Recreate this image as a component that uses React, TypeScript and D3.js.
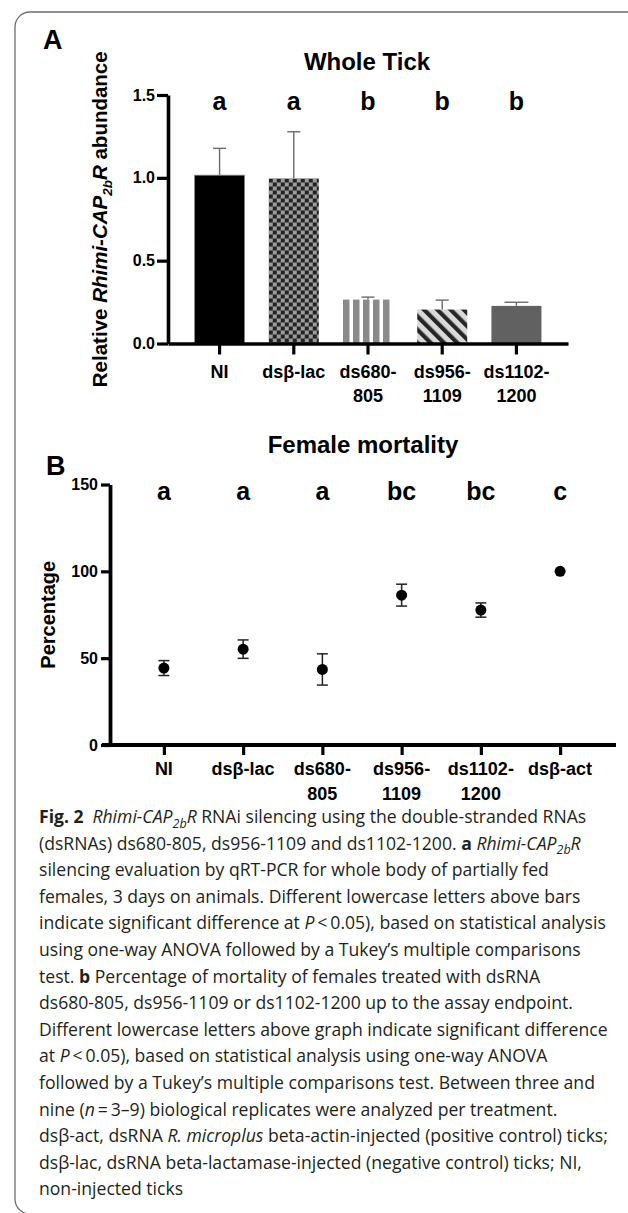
import React, { useRef, useEffect } from 'react';
import * as d3 from 'd3';

// ---- panel A : relative abundance (bars) ----
const catsA = ['NI', 'dsβ-lac', 'ds680-805', 'ds956-1109', 'ds1102-1200'];
const tickLinesA = [['NI'], ['dsβ-lac'], ['ds680-', '805'], ['ds956-', '1109'], ['ds1102-', '1200']];
const meansA = [1.016, 0.996, 0.265, 0.205, 0.227];
const errA = [0.162, 0.282, 0.015, 0.057, 0.022];
const lettersA = ['a', 'a', 'b', 'b', 'b'];
const yTicksA = [0, 0.5, 1.0, 1.5];

// ---- panel B : female mortality (points) ----
const catsB = ['NI', 'dsβ-lac', 'ds680-805', 'ds956-1109', 'ds1102-1200', 'dsβ-act'];
const tickLinesB = [['NI'], ['dsβ-lac'], ['ds680-', '805'], ['ds956-', '1109'], ['ds1102-', '1200'], ['dsβ-act']];
const meansB = [44.3, 55.2, 43.5, 86.3, 77.7, 100];
const errB = [4.3, 5.3, 9.0, 6.3, 4.1, 0];
const lettersB = ['a', 'a', 'a', 'bc', 'bc', 'c'];
const yTicksB = [0, 50, 100, 150];

// caption, one entry per printed line; b = bold, i = italic, s = subscript
type Seg = { t: string; b?: boolean; i?: boolean; s?: boolean };
const caption: Seg[][] = [
  [{ t: 'Fig. 2', b: true }, { t: '\u2002' }, { t: 'Rhimi-CAP', i: true }, { t: '2b', i: true, s: true }, { t: 'R', i: true }, { t: ' RNAi silencing using the double-stranded RNAs' }],
  [{ t: '(dsRNAs) ds680-805, ds956-1109 and ds1102-1200. ' }, { t: 'a', b: true }, { t: ' ' }, { t: 'Rhimi-CAP', i: true }, { t: '2b', i: true, s: true }, { t: 'R', i: true }],
  [{ t: 'silencing evaluation by qRT-PCR for whole body of partially fed' }],
  [{ t: 'females, 3 days on animals. Different lowercase letters above bars' }],
  [{ t: 'indicate significant difference at ' }, { t: 'P', i: true }, { t: '\u2009<\u20090.05), based on statistical analysis' }],
  [{ t: 'using one-way ANOVA followed by a Tukey\u2019s multiple comparisons' }],
  [{ t: 'test. ' }, { t: 'b', b: true }, { t: ' Percentage of mortality of females treated with dsRNA' }],
  [{ t: 'ds680-805, ds956-1109 or ds1102-1200 up to the assay endpoint.' }],
  [{ t: 'Different lowercase letters above graph indicate significant difference' }],
  [{ t: 'at ' }, { t: 'P', i: true }, { t: '\u2009<\u20090.05), based on statistical analysis using one-way ANOVA' }],
  [{ t: 'followed by a Tukey\u2019s multiple comparisons test. Between three and' }],
  [{ t: 'nine (' }, { t: 'n', i: true }, { t: '\u2009=\u20093\u20139) biological replicates were analyzed per treatment.' }],
  [{ t: 'dsβ-act, dsRNA ' }, { t: 'R. microplus', i: true }, { t: ' beta-actin-injected (positive control) ticks;' }],
  [{ t: 'dsβ-lac, dsRNA beta-lactamase-injected (negative control) ticks; NI,' }],
  [{ t: 'non-injected ticks' }],
];

const FONT = 'Arial, "Liberation Sans", Helvetica, sans-serif';
const CAPFONT = '"Open Sans", "Noto Sans", sans-serif';

const App = () => {
  const ref = useRef(null);

  useEffect(() => {
    const svg = d3.select(ref.current);
    svg.selectAll('*').remove();

    // rounded frame (only left/top visible)
    svg.append('rect')
      .attr('x', 15).attr('y', 12)
      .attr('width', 700).attr('height', 1202)
      .attr('rx', 15)
      .attr('fill', 'none')
      .attr('stroke', '#6e6e6e')
      .attr('stroke-width', 1.3);

    const defs = svg.append('defs');

    // ===== Panel A =====
    const xA = d3.scaleBand().domain(catsA).range([168, 568]).paddingInner(0.326).paddingOuter(0.358);
    const yA = d3.scaleLinear().domain([0, 1.5]).range([343.5, 95]);

    // patterns
    const chk = defs.append('pattern').attr('id', 'chk').attr('patternUnits', 'userSpaceOnUse')
      .attr('width', 8).attr('height', 8).attr('x', xA('dsβ-lac')).attr('y', yA(meansA[1]));
    chk.append('rect').attr('width', 8).attr('height', 8).attr('fill', '#9c9c9c');
    chk.append('rect').attr('width', 4).attr('height', 4).attr('fill', '#232323');
    chk.append('rect').attr('x', 4).attr('y', 4).attr('width', 4).attr('height', 4).attr('fill', '#232323');

    const vst = defs.append('pattern').attr('id', 'vst').attr('patternUnits', 'userSpaceOnUse')
      .attr('width', 10).attr('height', 10).attr('x', xA('ds680-805'));
    vst.append('rect').attr('width', 10).attr('height', 10).attr('fill', '#ffffff');
    vst.append('rect').attr('width', 6.5).attr('height', 10).attr('fill', '#8a8a8a');

    const dg = defs.append('pattern').attr('id', 'dg').attr('patternUnits', 'userSpaceOnUse')
      .attr('width', 9.4).attr('height', 9.4).attr('patternTransform', `translate(${xA('ds956-1109')},0) rotate(-45)`);
    dg.append('rect').attr('width', 9.4).attr('height', 9.4).attr('fill', '#d9d9d9');
    dg.append('rect').attr('width', 4.2).attr('height', 9.4).attr('fill', '#262626');

    const fillsA = ['#000000', 'url(#chk)', 'url(#vst)', 'url(#dg)', '#616161'];
    const capsA = [13, 13, 13, 13, 24];

    const gA = svg.append('g');

    gA.selectAll('.bar')
      .data(catsA)
      .enter()
      .append('rect')
      .attr('class', 'bar')
      .attr('x', d => xA(d))
      .attr('y', (d, i) => yA(meansA[i]))
      .attr('width', xA.bandwidth())
      .attr('height', (d, i) => yA(0) - yA(meansA[i]))
      .attr('fill', (d, i) => fillsA[i])
      .attr('stroke', (d, i) => (i === 0 ? '#8a8a8a' : 'none'))
      .attr('stroke-width', 0.8);

    // error bars (upper only)
    catsA.forEach((c, i) => {
      const cx = xA(c) + xA.bandwidth() / 2;
      gA.append('line')
        .attr('x1', cx).attr('x2', cx)
        .attr('y1', yA(meansA[i])).attr('y2', yA(meansA[i] + errA[i]))
        .attr('stroke', '#6b6b6b').attr('stroke-width', 1.4);
      gA.append('line')
        .attr('x1', cx - capsA[i] / 2).attr('x2', cx + capsA[i] / 2)
        .attr('y1', yA(meansA[i] + errA[i])).attr('y2', yA(meansA[i] + errA[i]))
        .attr('stroke', '#6b6b6b').attr('stroke-width', 1.4);
    });

    // axes
    const axL = gA.append('g')
      .attr('transform', 'translate(168,0)')
      .call(d3.axisLeft(yA).tickValues(yTicksA).tickFormat(d3.format('.1f')).tickSize(11).tickSizeOuter(0).tickPadding(2));
    const axB = gA.append('g')
      .attr('transform', `translate(0,${yA(0)})`)
      .call(d3.axisBottom(xA).tickSize(11).tickSizeOuter(0).tickFormat(() => ''));
    [axL, axB].forEach(ax => {
      ax.select('.domain').attr('stroke', '#000').attr('stroke-width', 3.6);
      ax.selectAll('.tick line').attr('stroke', '#000').attr('stroke-width', 3.2);
    });
    axL.selectAll('.tick text')
      .attr('fill', '#000')
      .style('font-family', FONT).style('font-weight', 'bold').style('font-size', '16px');

    // multi-line category labels
    catsA.forEach((c, i) => {
      const t = gA.append('text')
        .attr('x', xA(c) + xA.bandwidth() / 2)
        .attr('y', 378)
        .attr('text-anchor', 'middle')
        .style('font-family', FONT).style('font-weight', 'bold').style('font-size', '18px');
      tickLinesA[i].forEach((ln, k) => {
        t.append('tspan').attr('x', xA(c) + xA.bandwidth() / 2).attr('dy', k === 0 ? 0 : 24).text(ln);
      });
    });

    // significance letters
    gA.selectAll('.ltr')
      .data(lettersA)
      .enter()
      .append('text')
      .attr('x', (d, i) => xA(catsA[i]) + xA.bandwidth() / 2)
      .attr('y', 110)
      .attr('text-anchor', 'middle')
      .style('font-family', FONT).style('font-weight', 'bold').style('font-size', '25px')
      .text(d => d);

    gA.append('text')
      .attr('x', 367).attr('y', 70)
      .attr('text-anchor', 'middle')
      .style('font-family', FONT).style('font-weight', 'bold').style('font-size', '24px')
      .text('Whole Tick');

    gA.append('text')
      .attr('x', 43).attr('y', 49)
      .style('font-family', FONT).style('font-weight', 'bold').style('font-size', '27px')
      .text('A');

    const yl = gA.append('text')
      .attr('transform', `translate(107,${(yA(0) + yA(1.5)) / 2}) rotate(-90)`)
      .attr('text-anchor', 'middle')
      .style('font-family', FONT).style('font-weight', 'bold').style('font-size', '20.5px');
    yl.append('tspan').text('Relative ');
    yl.append('tspan').style('font-style', 'italic').text('Rhimi-CAP');
    yl.append('tspan').style('font-style', 'italic').style('font-size', '13.5px').attr('dy', 5).text('2b');
    yl.append('tspan').style('font-style', 'italic').attr('dy', -5).text('R');
    yl.append('tspan').text(' abundance');

    // ===== Panel B =====
    const xB = d3.scalePoint().domain(catsB).range([110, 614]).padding(0.68);
    const yB = d3.scaleLinear().domain([0, 150]).range([745, 484.5]);
    const gB = svg.append('g');

    const axLB = gB.append('g')
      .attr('transform', 'translate(110,0)')
      .call(d3.axisLeft(yB).tickValues(yTicksB).tickSize(9).tickSizeOuter(0).tickPadding(3));
    const axBB = gB.append('g')
      .attr('transform', `translate(0,${yB(0)})`)
      .call(d3.axisBottom(xB).tickSize(10).tickSizeOuter(0).tickFormat(() => ''));
    axBB.select('.domain').attr('d', `M102,0H616`);
    [axLB, axBB].forEach(ax => {
      ax.select('.domain').attr('stroke', '#000').attr('stroke-width', 3.8);
      ax.selectAll('.tick line').attr('stroke', '#000').attr('stroke-width', 3.2);
    });
    axLB.selectAll('.tick text')
      .attr('fill', '#000')
      .style('font-family', FONT).style('font-weight', 'bold').style('font-size', '16px');

    catsB.forEach((c, i) => {
      const cx = xB(c);
      if (errB[i] > 0) {
        gB.append('line')
          .attr('x1', cx).attr('x2', cx)
          .attr('y1', yB(meansB[i] - errB[i])).attr('y2', yB(meansB[i] + errB[i]))
          .attr('stroke', '#222').attr('stroke-width', 1.5);
        [meansB[i] - errB[i], meansB[i] + errB[i]].forEach(v => {
          gB.append('line')
            .attr('x1', cx - 5.5).attr('x2', cx + 5.5)
            .attr('y1', yB(v)).attr('y2', yB(v))
            .attr('stroke', '#222').attr('stroke-width', 1.5);
        });
      }
    });

    gB.selectAll('.pt')
      .data(catsB)
      .enter()
      .append('circle')
      .attr('cx', d => xB(d))
      .attr('cy', (d, i) => yB(meansB[i]))
      .attr('r', 5.5)
      .attr('fill', '#000');

    catsB.forEach((c, i) => {
      const t = gB.append('text')
        .attr('x', xB(c))
        .attr('y', 775)
        .attr('text-anchor', 'middle')
        .style('font-family', FONT).style('font-weight', 'bold').style('font-size', '18px');
      tickLinesB[i].forEach((ln, k) => {
        t.append('tspan').attr('x', xB(c)).attr('dy', k === 0 ? 0 : 25).text(ln);
      });
    });

    gB.selectAll('.ltrb')
      .data(lettersB)
      .enter()
      .append('text')
      .attr('x', (d, i) => xB(catsB[i]))
      .attr('y', 500)
      .attr('text-anchor', 'middle')
      .style('font-family', FONT).style('font-weight', 'bold').style('font-size', '25px')
      .text(d => d);

    gB.append('text')
      .attr('x', 363).attr('y', 453)
      .attr('text-anchor', 'middle')
      .style('font-family', FONT).style('font-weight', 'bold').style('font-size', '24px')
      .text('Female mortality');

    gB.append('text')
      .attr('x', 46).attr('y', 475)
      .style('font-family', FONT).style('font-weight', 'bold').style('font-size', '27px')
      .text('B');

    gB.append('text')
      .attr('transform', `translate(55,${(yB(0) + yB(150)) / 2}) rotate(-90)`)
      .attr('text-anchor', 'middle')
      .style('font-family', FONT).style('font-weight', 'bold').style('font-size', '20px')
      .text('Percentage');

    // ===== caption =====
    const gC = svg.append('g')
      .style('font-family', CAPFONT).style('font-size', '17.6px').attr('fill', '#231f20');
    caption.forEach((line, li) => {
      const t = gC.append('text').attr('x', 39).attr('y', 823 + li * 26.6);
      line.forEach((seg, k) => {
        const sp = t.append('tspan').text(seg.t);
        if (seg.b) sp.style('font-weight', 'bold');
        if (seg.i) sp.style('font-style', 'italic');
        if (seg.s) sp.style('font-size', '12.5px').attr('dy', 4.5);
        // back to the baseline after a subscript
        if (k > 0 && line[k - 1].s && !seg.s) sp.attr('dy', -4.5);
      });
    });
  }, []);

  return (
    <div style={{ position: 'absolute', left: 0, top: 0 }}>
      <svg ref={ref} width={628} height={1213} style={{ display: 'block', background: '#fff' }}></svg>
    </div>
  );
};

export default App;
